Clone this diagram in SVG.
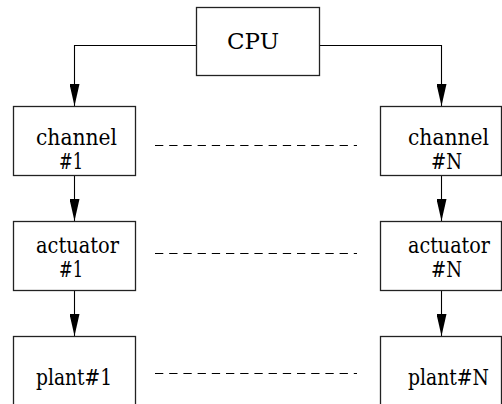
<svg xmlns="http://www.w3.org/2000/svg" width="502" height="404" viewBox="0 0 502 404">
  <defs>
    <marker id="arrow" markerWidth="22" markerHeight="10" refX="22" refY="5" orient="auto" markerUnits="userSpaceOnUse" viewBox="0 0 22 10">
      <path d="M0,0 L22,5 L0,10 Z" fill="#000"/>
    </marker>
    <style>
      .box { fill: #fff; stroke: #222; stroke-width: 1.3; }
      .lbl { font-family: "DejaVu Serif", "Liberation Serif", Times, "Nimbus Roman", serif; font-size: 22px; fill: #000; }
      .wire { fill: none; stroke: #000; stroke-width: 1.1; }
      .dash { fill: none; stroke: #000; stroke-width: 1.1; stroke-dasharray: 8.3 5.9; }
    </style>
  </defs>
  <rect width="502" height="404" fill="#fff"/>

  <g id="connectors">
    <path class="wire" d="M196,45.5 H74.5 V106" marker-end="url(#arrow)"/>
    <path class="wire" d="M319,45.5 H441.5 V106" marker-end="url(#arrow)"/>
    <path class="wire" d="M74.5,175 V221" marker-end="url(#arrow)"/>
    <path class="wire" d="M441.5,175 V221" marker-end="url(#arrow)"/>
    <path class="wire" d="M74.5,290 V336" marker-end="url(#arrow)"/>
    <path class="wire" d="M441.5,290 V336" marker-end="url(#arrow)"/>
    <path class="dash" d="M155,145.5 H357"/>
    <path class="dash" d="M155,253.5 H357"/>
    <path class="dash" d="M155,373.5 H357"/>
  </g>

  <g id="cpu">
    <rect class="box" x="196.5" y="7.5" width="123" height="68"/>
    <text class="lbl" x="227" y="49" textLength="52" lengthAdjust="spacingAndGlyphs">CPU</text>
  </g>

  <g id="channel1">
    <rect class="box" x="13.5" y="106.5" width="122" height="69"/>
    <text class="lbl" x="36" y="145" textLength="81" lengthAdjust="spacingAndGlyphs">channel</text>
    <text class="lbl" x="59" y="169" textLength="24" lengthAdjust="spacingAndGlyphs">#1</text>
  </g>
  <g id="channelN">
    <rect class="box" x="380.5" y="106.5" width="121" height="69"/>
    <text class="lbl" x="408" y="145" textLength="81" lengthAdjust="spacingAndGlyphs">channel</text>
    <text class="lbl" x="431" y="169" textLength="31" lengthAdjust="spacingAndGlyphs">#N</text>
  </g>

  <g id="actuator1">
    <rect class="box" x="13.5" y="221.5" width="122" height="69"/>
    <text class="lbl" x="36" y="253" textLength="83" lengthAdjust="spacingAndGlyphs">actuator</text>
    <text class="lbl" x="59" y="277" textLength="24" lengthAdjust="spacingAndGlyphs">#1</text>
  </g>
  <g id="actuatorN">
    <rect class="box" x="380.5" y="221.5" width="121" height="69"/>
    <text class="lbl" x="408" y="253" textLength="82" lengthAdjust="spacingAndGlyphs">actuator</text>
    <text class="lbl" x="431" y="277" textLength="31" lengthAdjust="spacingAndGlyphs">#N</text>
  </g>

  <g id="plant1">
    <rect class="box" x="13.5" y="336.5" width="122" height="80"/>
    <text class="lbl" x="36" y="385" textLength="76" lengthAdjust="spacingAndGlyphs">plant#1</text>
  </g>
  <g id="plantN">
    <rect class="box" x="380.5" y="336.5" width="121" height="80"/>
    <text class="lbl" x="408" y="385" textLength="81" lengthAdjust="spacingAndGlyphs">plant#N</text>
  </g>
</svg>
